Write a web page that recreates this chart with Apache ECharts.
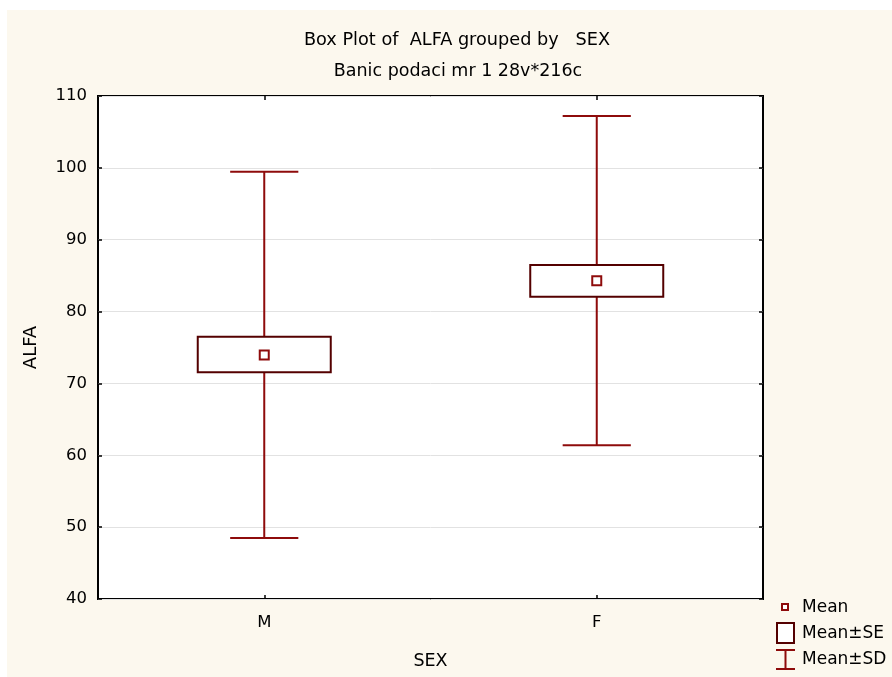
<!DOCTYPE html>
<html><head><meta charset="utf-8">
<script src="https://cdn.jsdelivr.net/npm/echarts@6/dist/echarts.min.js"></script>
<style>html,body{margin:0;padding:0;background:#fff}#c{width:892px;height:677px}</style>
</head><body><div id="c"></div>
<script>
// ---- data ----
const categories = ['M', 'F'];
const means  = [73.95, 84.3];
const seLow  = [71.55, 82.07];
const seHigh = [76.5, 86.48];
const sdLow  = [48.5, 61.4];
const sdHigh = [99.45, 107.2];
const yMin = 40, yMax = 110, yStep = 10;
const titleText = 'Box Plot of  ALFA grouped by   SEX';
const subTitleText = 'Banic podaci mr 1 28v*216c';
const legendNames = ['Mean', 'Mean±SE', 'Mean±SD'];

const FONT = 'DejaVu Sans';
const WHISK = '#8e0b0b';
const BOXC = '#540000';

const chart = echarts.init(document.getElementById('c'), null, {renderer: 'canvas'});

const whiskerData = categories.map((c, i) => [i, sdLow[i], sdHigh[i]]);
const boxData = categories.map((c, i) => [i, seLow[i], seHigh[i]]);
const meanData = categories.map((c, i) => [i, means[i]]);

const axisY = (pos, show) => ({
  type: 'value', position: pos, min: yMin, max: yMax, interval: yStep,
  axisLine: {show: false},
  axisTick: {show: true, inside: true, length: 4, lineStyle: {color: '#000', width: 1.5}},
  axisLabel: {show: show, color: '#000', fontFamily: FONT, fontSize: 16.5, margin: 11},
  splitLine: {show: show, lineStyle: {color: '#e2e2e2', width: 1}}
});
const axisX = (pos, show) => ({
  type: 'category', position: pos, data: categories, boundaryGap: true,
  axisLine: {show: false},
  axisTick: {show: true, inside: true, length: 4, alignWithLabel: true, lineStyle: {color: '#000', width: 1.5}},
  axisLabel: {show: show, color: '#000', fontFamily: FONT, fontSize: 16.5, margin: 15},
  splitLine: {show: false}
});

const xMain = axisX('bottom', true);
xMain.name = 'SEX'; xMain.nameLocation = 'middle'; xMain.nameGap = 53;
xMain.nameTextStyle = {color: '#000', fontFamily: FONT, fontSize: 17.5};
const yMain = axisY('left', true);
yMain.name = 'ALFA'; yMain.nameLocation = 'middle'; yMain.nameGap = 58;
yMain.nameTextStyle = {color: '#000', fontFamily: FONT, fontSize: 18};

const option = {
  backgroundColor: '#fcf8ee',
  animation: false,
  title: [
    {text: titleText, left: 457, top: 31, textAlign: 'center', padding: 0,
     textStyle: {fontFamily: FONT, fontSize: 17.7, fontWeight: 'normal', color: '#000'}},
    {text: subTitleText, left: 458, top: 62, textAlign: 'center', padding: 0,
     textStyle: {fontFamily: FONT, fontSize: 17.5, fontWeight: 'normal', color: '#000'}}
  ],
  grid: {left: 98, top: 96, right: 129, bottom: 78, show: true, backgroundColor: '#fff',
         borderColor: '#000', borderWidth: 2},
  xAxis: [xMain, axisX('top', false)],
  yAxis: [yMain, axisY('right', false)],
  graphic: [
    {type: 'rect', left: 0, top: 0, shape: {width: 892, height: 10}, style: {fill: '#fff'}, silent: true},
    {type: 'rect', left: 0, top: 0, shape: {width: 7, height: 677}, style: {fill: '#fff'}, silent: true},
    // legend
    {type: 'rect', shape: {x: 782, y: 604, width: 6, height: 6}, style: {fill: '#fff', stroke: WHISK, lineWidth: 2}},
    {type: 'text', x: 802, y: 608, style: {text: legendNames[0], fill: '#000', font: '17px "DejaVu Sans"', textVerticalAlign: 'middle'}},
    {type: 'rect', shape: {x: 777, y: 623, width: 17, height: 20}, style: {fill: '#fff', stroke: BOXC, lineWidth: 2}},
    {type: 'text', x: 802, y: 634, style: {text: legendNames[1], fill: '#000', font: '17px "DejaVu Sans"', textVerticalAlign: 'middle'}},
    {type: 'line', shape: {x1: 785.5, y1: 650, x2: 785.5, y2: 669}, style: {stroke: WHISK, lineWidth: 2}},
    {type: 'line', shape: {x1: 776, y1: 650, x2: 795, y2: 650}, style: {stroke: WHISK, lineWidth: 2}},
    {type: 'line', shape: {x1: 776, y1: 669, x2: 795, y2: 669}, style: {stroke: WHISK, lineWidth: 2}},
    {type: 'text', x: 802, y: 660, style: {text: legendNames[2], fill: '#000', font: '17px "DejaVu Sans"', textVerticalAlign: 'middle'}}
  ],
  series: [
    {
      name: 'Mean±SD', type: 'custom', xAxisIndex: 0, yAxisIndex: 0, z: 2,
      encode: {x: 0, y: [1, 2]},
      data: whiskerData,
      renderItem: function (params, api) {
        const i = api.value(0);
        const top = api.coord([i, api.value(2)]);
        const bot = api.coord([i, api.value(1)]);
        const bw = api.size([1, 0])[0];
        const cw = bw * 0.205;
        const st = {stroke: WHISK, lineWidth: 2};
        return {type: 'group', children: [
          {type: 'line', shape: {x1: top[0], y1: top[1], x2: bot[0], y2: bot[1]}, style: st},
          {type: 'line', shape: {x1: top[0] - cw / 2, y1: top[1], x2: top[0] + cw / 2, y2: top[1]}, style: st},
          {type: 'line', shape: {x1: bot[0] - cw / 2, y1: bot[1], x2: bot[0] + cw / 2, y2: bot[1]}, style: st}
        ]};
      }
    },
    {
      name: 'Mean±SE', type: 'custom', xAxisIndex: 0, yAxisIndex: 0, z: 3,
      encode: {x: 0, y: [1, 2]},
      data: boxData,
      renderItem: function (params, api) {
        const i = api.value(0);
        const top = api.coord([i, api.value(2)]);
        const bot = api.coord([i, api.value(1)]);
        const bw = api.size([1, 0])[0] * 0.4;
        return {type: 'rect', shape: {x: top[0] - bw / 2, y: top[1], width: bw, height: bot[1] - top[1]},
                style: {fill: '#fff', stroke: BOXC, lineWidth: 2}};
      }
    },
    {
      name: 'Mean', type: 'scatter', xAxisIndex: 0, yAxisIndex: 0, z: 4,
      symbol: 'rect', symbolSize: 9,
      itemStyle: {color: '#fff', borderColor: WHISK, borderWidth: 2, opacity: 1},
      data: meanData
    }
  ]
};
chart.setOption(option);
</script>
</body></html>
